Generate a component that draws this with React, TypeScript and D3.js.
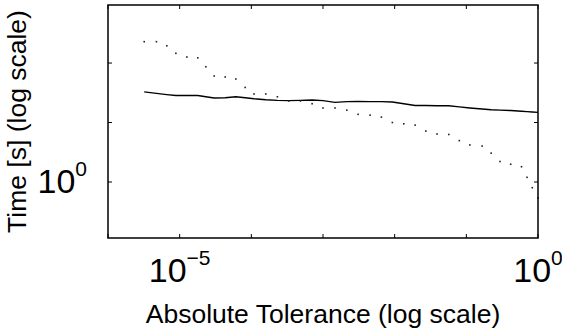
import React from "react";
import * as d3 from "d3";

// Absolute tolerance (x, log scale)
const tolerances = [
  3.2e-6, 4.74e-6, 6.62e-6, 8.85e-6, 1.26e-5, 1.79e-5, 2.32e-5, 3.03e-5, 4.32e-5, 6.08e-5,
  8.2e-5, 1.09e-4, 1.59e-4, 2.31e-4, 3.33e-4, 4.84e-4, 7.05e-4, 1.0e-3, 1.47e-3, 2.15e-3,
  3.09e-3, 4.54e-3, 6.53e-3, 9.29e-3, 1.34e-2, 1.93e-2, 2.72e-2, 3.9e-2, 5.69e-2, 7.98e-2,
  0.112, 0.166, 0.222, 0.295, 0.416, 0.589, 0.703, 0.832, 1.0,
];

// Time [s] – solid series
const solidTimes = [
  2.86, 2.81, 2.77, 2.74, 2.74, 2.74, 2.7, 2.66, 2.67, 2.7,
  2.67, 2.64, 2.61, 2.59, 2.58, 2.59, 2.6, 2.58, 2.53, 2.55,
  2.56, 2.55, 2.55, 2.54, 2.49, 2.44, 2.44, 2.43, 2.43, 2.4,
  2.37, 2.34, 2.32, 2.31, 2.3, 2.28, 2.27, 2.26, 2.25,
];

// Time [s] – dotted series
const dottedTimes = [
  5.13, 5.13, 4.89, 4.48, 4.29, 4.25, 3.83, 3.44, 3.4, 3.32,
  3.01, 2.79, 2.79, 2.7, 2.57, 2.57, 2.49, 2.37, 2.37, 2.31,
  2.2, 2.18, 2.13, 2.0, 1.97, 1.94, 1.81, 1.75, 1.74, 1.62,
  1.54, 1.52, 1.4, 1.27, 1.23, 1.195, 1.056, 0.936, 0.83,
];

const xDomain = [1e-6, 1];
const yDomain = [0.5208, 7.866];
const xTickValues = [1e-6, 1e-5, 1e-4, 1e-3, 1e-2, 1e-1, 1];
const xTickLabels = [
  { value: 1e-5, base: "10", exp: "\u22125" },
  { value: 1, base: "10", exp: "0" },
];
const yTickValues = [1, 2, 4];
const yTickLabels = [{ value: 1, base: "10", exp: "0" }];

const W = 562;
const H = 329;
const left = 108;
const right = 538;
const top = 5;
const bottom = 238;
const FONT = "'Liberation Sans', Arial, Helvetica, sans-serif";

export default function App() {
  const x = d3.scaleLog().domain(xDomain).range([left, right]);
  const y = d3.scaleLog().domain(yDomain).range([bottom, top]);

  const solidLine = d3
    .line<number>()
    .x((_, i) => x(tolerances[i]))
    .y((d) => y(d));

  const tickLen = 4;

  return (
    <svg
      width={W}
      height={H}
      style={{ position: "absolute", left: 0, top: 0, background: "#fff" }}
    >
      <rect x={0} y={0} width={W} height={H} fill="#fff" />
      {/* solid series */}
      <path d={solidLine(solidTimes) || ""} fill="none" stroke="#000" strokeWidth={1.4} />
      {/* dotted series */}
      {dottedTimes.map((d, i) => (
        <rect
          key={i}
          x={x(tolerances[i]) - 0.8}
          y={y(d) - 0.8}
          width={1.6}
          height={1.6}
          fill="#222"
        />
      ))}
      {/* box */}
      <rect x={left} y={top} width={right - left} height={bottom - top} fill="none" stroke="#000" strokeWidth={1.5} />
      {/* x ticks (bottom and top) */}
      {xTickValues.map((v, i) => (
        <g key={"xt" + i}>
          <line x1={x(v)} x2={x(v)} y1={bottom} y2={bottom - tickLen} stroke="#000" strokeWidth={1} />
          <line x1={x(v)} x2={x(v)} y1={top} y2={top + tickLen} stroke="#000" strokeWidth={1} />
        </g>
      ))}
      {/* y ticks (left and right) */}
      {yTickValues.map((v, i) => (
        <g key={"yt" + i}>
          <line x1={left} x2={left + tickLen} y1={y(v)} y2={y(v)} stroke="#000" strokeWidth={1} />
          <line x1={right} x2={right - tickLen} y1={y(v)} y2={y(v)} stroke="#000" strokeWidth={1} />
        </g>
      ))}
      {/* x tick labels */}
      {xTickLabels.map((t, i) => (
        <text
          key={"xl" + i}
          x={x(t.value)}
          y={282}
          textAnchor="middle"
          fontFamily={FONT}
          fontSize={34}
          fill="#000"
        >
          {t.base}
          <tspan dy={-17} fontSize={21}>
            {t.exp}
          </tspan>
        </text>
      ))}
      {/* y tick labels */}
      {yTickLabels.map((t, i) => (
        <text
          key={"yl" + i}
          x={87}
          y={y(t.value) + 11}
          textAnchor="end"
          fontFamily={FONT}
          fontSize={34}
          fill="#000"
        >
          {t.base}
          <tspan dy={-17} fontSize={21}>
            {t.exp}
          </tspan>
        </text>
      ))}
      {/* axis labels */}
      <text
        x={(left + right) / 2}
        y={322.5}
        textAnchor="middle"
        fontFamily={FONT}
        fontSize={26.5}
        fill="#000"
      >
        Absolute Tolerance (log scale)
      </text>
      <text
        transform={`translate(26, ${(top + bottom) / 2}) rotate(-90)`}
        textAnchor="middle"
        fontFamily={FONT}
        fontSize={26.5}
        fill="#000"
      >
        Time [s] (log scale)
      </text>
    </svg>
  );
}
